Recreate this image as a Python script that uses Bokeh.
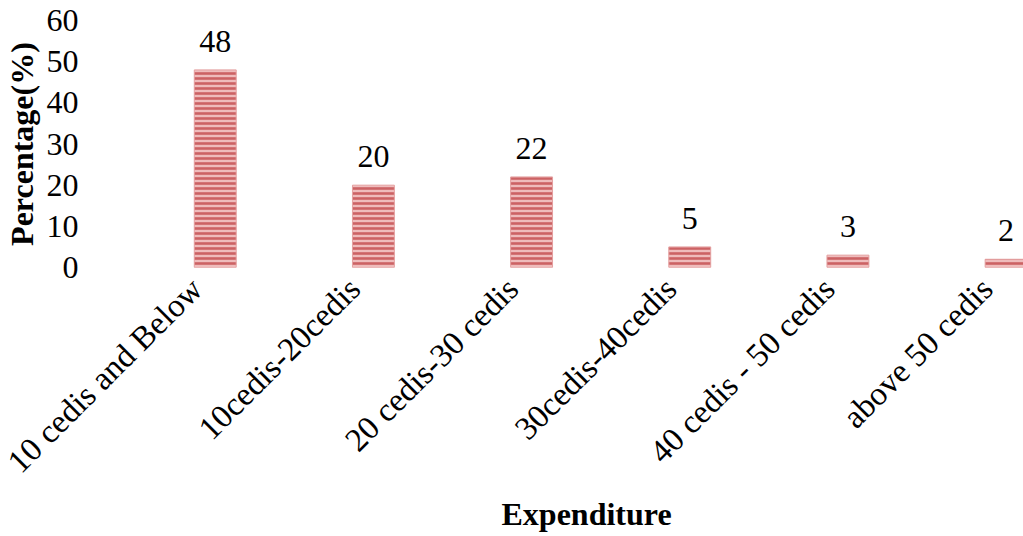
from bokeh.plotting import figure
from bokeh.models import ColumnDataSource, Range1d, FixedTicker, Title, CustomJSTickFormatter
from bokeh.embed import file_html
from bokeh.resources import INLINE
from bokeh.core.properties import value
import math

categories = ["10 cedis and Below", "10cedis-20cedis", "20 cedis-30 cedis",
              "30cedis-40cedis", "40 cedis - 50 cedis", "above 50 cedis"]
percentages = [48, 20, 22, 5, 3, 2]
y_ticks = [0, 10, 20, 30, 40, 50, 60]

xs = list(range(len(categories)))
src = ColumnDataSource(dict(x=xs, top=percentages, lbl=[str(v) for v in percentages]))

FONT = "Liberation Serif"
FS = "32px"
LABEL_SHIFT = 0.12

p = figure(width=1023, height=536, output_backend="svg", toolbar_location=None,
           x_range=Range1d(-0.776, 5.11), y_range=Range1d(0, 60),
           min_border_left=90, min_border_right=0, min_border_top=20, min_border_bottom=269)
p.outline_line_color = None
p.xgrid.grid_line_color = None
p.ygrid.grid_line_color = None

p.vbar(x="x", top="top", width=0.265, source=src,
       fill_color="#efbcbc", line_color="#e4a0a0", line_width=1,
       hatch_pattern="horizontal_line", hatch_color="#cc6264",
       hatch_scale=5, hatch_weight=2.6)

p.text(x="x", y="top", text="lbl", source=src, text_align="center",
       text_baseline="bottom", y_offset=-18, text_font=value(FONT),
       text_font_size=FS, text_color="black")

# y axis
ya = p.yaxis[0]
ya.ticker = FixedTicker(ticks=y_ticks)
ya.axis_line_color = None
ya.major_tick_line_color = None
ya.minor_tick_line_color = None
ya.major_label_text_font = FONT
ya.major_label_text_font_size = FS
ya.major_label_text_color = "black"
ya.major_label_standoff = 8
ya.axis_label = "Percentage(%)"
ya.axis_label_text_font = FONT
ya.axis_label_text_font_style = "bold"
ya.axis_label_text_font_size = FS
ya.axis_label_text_color = "black"
ya.axis_label_standoff = 4

# x axis (labels anchored slightly left of bar centres, like the original)
xa = p.xaxis[0]
xa.ticker = FixedTicker(ticks=[x - LABEL_SHIFT for x in xs])
xa.formatter = CustomJSTickFormatter(args=dict(cats=categories, sh=LABEL_SHIFT), code="""
    const i = Math.round(tick + sh);
    return (i >= 0 && i < cats.length) ? cats[i] : "";
""")
xa.major_label_orientation = math.pi / 4
xa.axis_line_color = None
xa.major_tick_line_color = None
xa.minor_tick_line_color = None
xa.major_label_text_font = FONT
xa.major_label_text_font_size = "33px"
xa.major_label_text_color = "black"
xa.major_label_standoff = 10

p.add_layout(Title(text="Expenditure", align="left", offset=409, vertical_align="top",
                   text_font=FONT, text_font_style="bold",
                   text_font_size=FS, text_color="black", standoff=1), "below")

open("out.html", "w").write(file_html(p, INLINE))
